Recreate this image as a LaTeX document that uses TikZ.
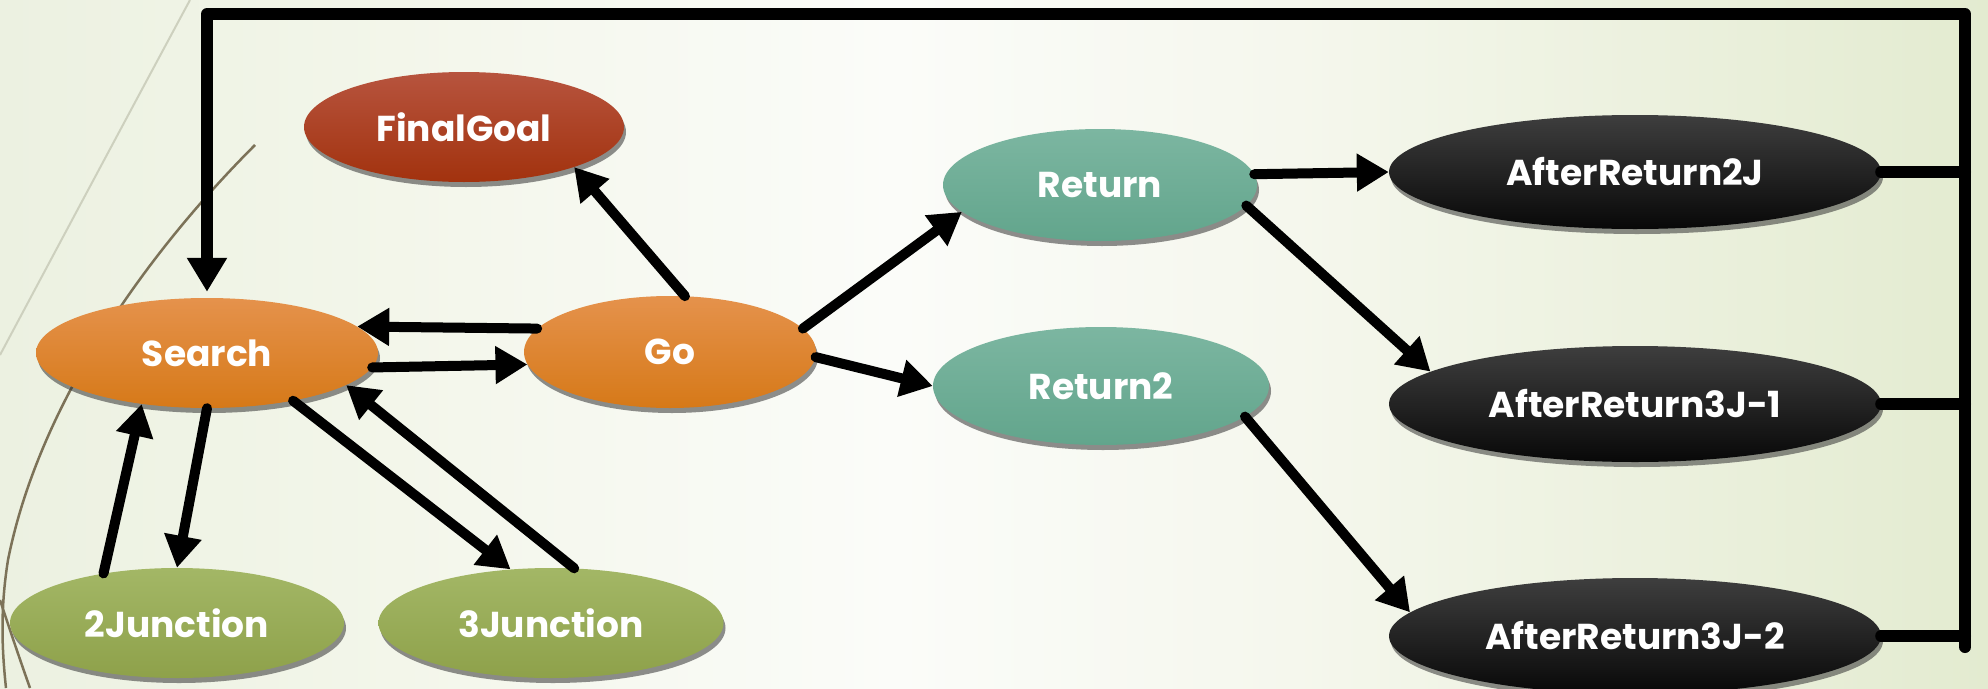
\documentclass[tikz,border=0pt]{standalone}
\usepackage{fontspec}
\newfontfamily\nodefont{Poppins}
\usetikzlibrary{shapes.geometric,arrows.meta,shadows}

\definecolor{bgA}{RGB}{236,241,225}
\definecolor{bgB}{RGB}{243,246,234}
\definecolor{bgC}{RGB}{251,252,249}
\definecolor{bgD}{RGB}{245,247,237}
\definecolor{bgE}{RGB}{227,235,208}
\pgfdeclarehorizontalshading{slidebg}{100bp}{%
  color(0bp)=(bgA); color(25bp)=(bgA); color(35bp)=(bgB); color(47.5bp)=(bgC);
  color(57.5bp)=(bgD); color(75bp)=(bgE); color(100bp)=(bgE)}

\definecolor{wispGrey}{RGB}{205,208,190}
\definecolor{wispBrown}{RGB}{124,114,88}
\definecolor{orangeT}{RGB}{229,146,76}
\definecolor{orangeB}{RGB}{214,121,24}
\definecolor{redT}{RGB}{183,84,62}
\definecolor{redB}{RGB}{162,50,14}
\definecolor{greenT}{RGB}{163,183,102}
\definecolor{greenB}{RGB}{142,161,74}
\definecolor{tealT}{RGB}{124,182,161}
\definecolor{tealB}{RGB}{98,165,140}
\definecolor{darkT}{RGB}{62,62,62}
\definecolor{darkB}{RGB}{8,8,8}

\tikzset{
  state/.style={ellipse, inner sep=0pt, text=white,
    font=\nodefont\bfseries\fontsize{36}{40}\selectfont,
    drop shadow={shadow xshift=2pt, shadow yshift=-5pt, opacity=0.55, fill=black!80}},
  orangestate/.style={state, top color=orangeT, bottom color=orangeB},
  redstate/.style={state, top color=redT, bottom color=redB},
  greenstate/.style={state, top color=greenT, bottom color=greenB},
  tealstate/.style={state, top color=tealT, bottom color=tealB},
  darkstate/.style={state, top color=darkT, bottom color=darkB},
  arr/.style={line width=10pt, line cap=round,
    -{Triangle[width=36pt,length=32pt]}},
  loopline/.style={line width=12pt, line cap=round, line join=round},
}

\begin{document}
\begin{tikzpicture}[x=1pt,y=-1pt]
\useasboundingbox (0,0) rectangle (1988,688);
\shade[shading=slidebg] (0,0) rectangle (1988,688);

% background wisps
\draw[line width=2pt, wispGrey] (190,0) .. controls (120,130) and (40,280) .. (0,355);
\draw[line width=2.5pt, wispBrown] (255,145) .. controls (150,250) and (40,400) .. (8,560)
  .. controls (0,610) and (2,650) .. (6,688);
\draw[line width=2.5pt, wispBrown] (0,600) .. controls (10,630) and (20,660) .. (30,688);

% states
\node[orangestate, minimum width=342pt, minimum height=110pt] (search) at (207,353) {Search};
\node[orangestate, minimum width=292pt, minimum height=112pt] (go) at (670,352) {Go};
\node[redstate, minimum width=320pt, minimum height=110pt] (fg) at (464,127) {FinalGoal};
\node[greenstate, minimum width=334pt, minimum height=110pt] (j2) at (177,623) {2Junction};
\node[greenstate, minimum width=345pt, minimum height=110pt] (j3) at (551,623) {3Junction};
\node[tealstate, minimum width=314pt, minimum height=112pt] (ret) at (1100,185) {Return};
\node[tealstate, minimum width=336pt, minimum height=118pt] (ret2) at (1101,386) {Return2};
\node[darkstate, minimum width=492pt, minimum height=114pt] (ar2j) at (1635,172) {AfterReturn2J};
\node[darkstate, minimum width=492pt, minimum height=116pt] (ar3j1) at (1635,404) {AfterReturn3J-1};
\node[darkstate, minimum width=492pt, minimum height=116pt] (ar3j2) at (1635,636) {AfterReturn3J-2};

% transitions
\draw[arr] (go.170) -- (search.10);
\draw[arr] (search.-5) -- (go.185);
\draw[arr] (search.south) -- (j2.north);
\draw[arr] (j2.146) -- (search.218);
\draw[arr] (search.-29) -- (j3.127);
\draw[arr] (j3.67) -- (search.-13);
\draw[arr] (go.75) -- (fg.-20);
\draw[arr] (go.10) -- (ret.191);
\draw[arr] (go.-2) -- (ret2.west);
\draw[arr] (ret.4) -- (ar2j.west);
\draw[arr] (ret.-8) -- (ar3j1.171);
\draw[arr] (ret2.-12) -- (ar3j2.174);

% feedback loop back to Search
\coordinate (loopTR) at (1965,14);
\coordinate (loopBR) at (1965,647);
\draw[loopline] (ar2j.east) -- (ar2j.east -| loopTR);
\draw[loopline] (ar3j1.east) -- (ar3j1.east -| loopTR);
\draw[loopline] (ar3j2.east) -- (ar3j2.east -| loopTR);
\draw[loopline, -{Triangle[width=38pt,length=34pt]}, shorten >=6pt]
  (loopBR) -- (loopTR) -| (search.north);
\end{tikzpicture}
\end{document}
